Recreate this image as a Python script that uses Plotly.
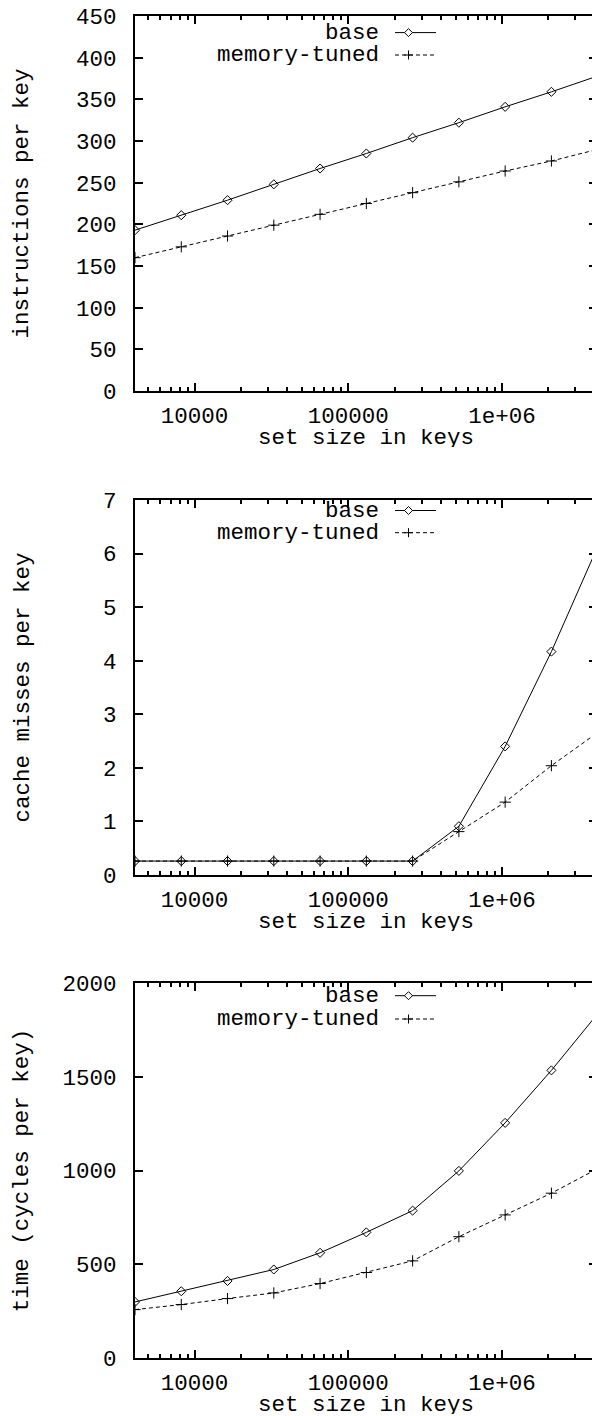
import math
import plotly.graph_objects as go

# ---------------- data ----------------
set_size = [4096, 8192, 16384, 32768, 65536, 131072, 262144,
            524288, 1048576, 2097152, 4194304]

instr_base = [193, 211, 229, 248, 267, 285, 304, 322, 341, 359, 378]
instr_tuned = [160, 173, 186, 199, 212, 225, 238, 251, 264, 276, 290]

miss_base = [0.26, 0.26, 0.26, 0.26, 0.26, 0.26, 0.26, 0.91, 2.40, 4.17, 6.13]
miss_tuned = [0.26, 0.26, 0.26, 0.26, 0.26, 0.26, 0.26, 0.81, 1.36, 2.04, 2.66]

time_base = [299, 356, 411, 472, 561, 670, 786, 998, 1254, 1534, 1836]
time_tuned = [258, 285, 317, 347, 397, 456, 518, 647, 763, 879, 1010]

series_names = ["base", "memory-tuned"]
y_titles = ["instructions per key", "cache misses per key", "time (cycles per key)"]
x_title = "set size in keys"
x_tick_vals = [1e4, 1e5, 1e6]
x_tick_text = ["10000", "100000", "1e+06"]
y_max = [450, 7, 2000]
y_step = [50, 1, 500]

panels = [(instr_base, instr_tuned), (miss_base, miss_tuned), (time_base, time_tuned)]

# ---------------- layout geometry (pixels) ----------------
W, H = 592, 1416
L = 135                    # left edge of plot area
PW = W - L                 # plot width (right side cut by the page edge)
tops = [16, 500, 983]      # top of each panel
PH = 375                   # panel height
x_lo = math.log10(4096)
x_hi = x_lo + PW / 153.7   # ~153.7 px per decade

FONT = "Liberation Mono, Courier New, monospace"
FS = 22.5
# legend row offsets from panel top (sample line y)
legend_rows = [(16.6, 39.0), (10.5, 32.7), (12.7, 36.0)]
x_title_offset = 47        # px below the panel bottom
y_standoff = [41, 67, 28]

minor_vals = [m * 10 ** e for e in (3, 4, 5, 6) for m in range(2, 10)]


def dx(px):
    return (px - L) / PW


fig = go.Figure()
layout = dict(
    width=W, height=H,
    margin=dict(l=L, r=0, t=0, b=0, autoexpand=False),
    paper_bgcolor="white", plot_bgcolor="white",
    font=dict(family=FONT, size=FS, color="black"),
    showlegend=False,
)

shapes = []
annotations = []
TW = 1.5
tick_style = dict(tickwidth=TW, tickcolor="black", showgrid=False, zeroline=False)
minor_style = dict(ticks="inside", ticklen=4, tickwidth=TW, tickcolor="black",
                   tickmode="array", tickvals=minor_vals, showgrid=False)

for i, (ys_base, ys_tuned) in enumerate(panels):
    n = i + 1
    xa = "x" if n == 1 else f"x{n}"
    ya = "y" if n == 1 else f"y{n}"
    xkey = "xaxis" if n == 1 else f"xaxis{n}"
    ykey = "yaxis" if n == 1 else f"yaxis{n}"
    xa_top = f"x{n + 3}"
    ya_right = f"y{n + 3}"
    top = tops[i]
    dom = [1 - (top + PH) / H, 1 - top / H]

    fig.add_trace(go.Scatter(
        x=set_size, y=ys_base, name=series_names[0], xaxis=xa, yaxis=ya,
        mode="lines+markers",
        line=dict(color="black", width=1),
        marker=dict(symbol="diamond-open", size=7, color="black",
                    line=dict(color="black", width=1)),
    ))
    fig.add_trace(go.Scatter(
        x=set_size, y=ys_tuned, name=series_names[1], xaxis=xa, yaxis=ya,
        mode="lines+markers",
        line=dict(color="black", width=1, dash="4px,3px"),
        marker=dict(symbol="cross-thin-open", size=8, color="black",
                    line=dict(color="black", width=1)),
    ))
    # empty helpers so the mirrored tick axes (top / right) get drawn
    fig.add_trace(go.Scatter(x=[], y=[], xaxis=xa_top, yaxis=ya,
                             hoverinfo="skip", showlegend=False))
    fig.add_trace(go.Scatter(x=[], y=[], xaxis=xa, yaxis=ya_right,
                             hoverinfo="skip", showlegend=False))

    layout[xkey] = dict(
        type="log", range=[x_lo, x_hi], domain=[0, 1], anchor=ya,
        showline=True, linecolor="black", linewidth=1.8, mirror=True,
        ticks="inside", ticklen=8,
        tickmode="array", tickvals=x_tick_vals, ticktext=x_tick_text,
        minor=minor_style,
        automargin=False,
        tickfont=dict(family=FONT, size=FS, color="black"),
        ticklabelstandoff=3,
        **tick_style,
    )
    # top-edge tick marks (gnuplot mirrors the x tics)
    layout[f"xaxis{n + 3}"] = dict(
        type="log", range=[x_lo, x_hi], overlaying=xa, anchor=ya, side="top",
        ticks="inside", ticklen=8, tickmode="array", tickvals=x_tick_vals,
        showticklabels=False, showline=False, minor=minor_style,
        **tick_style,
    )
    layout[ykey] = dict(
        range=[0, y_max[i]], dtick=y_step[i], tick0=0, domain=dom, anchor=xa,
        showline=True, linecolor="black", linewidth=1.8,
        ticks="inside", ticklen=8,
        automargin=False,
        tickfont=dict(family=FONT, size=FS, color="black"),
        ticklabelstandoff=12,
        title=dict(text=y_titles[i], font=dict(family=FONT, size=FS, color="black"),
                   standoff=y_standoff[i]),
        **tick_style,
    )
    # right-hand tick marks (the border itself lies just past the page edge)
    layout[f"yaxis{n + 3}"] = dict(
        range=[0, y_max[i]], dtick=y_step[i], tick0=0, overlaying=ya,
        anchor=xa, side="right", ticks="inside", ticklen=3,
        showticklabels=False, showline=False,
        **tick_style,
    )

    yref = f"{ya} domain"
    xref = f"{xa} domain"

    # x axis title, tucked close under the tick labels as gnuplot does
    annotations.append(dict(
        text=x_title, xref=xref, yref=yref, x=dx(366), y=-x_title_offset / PH,
        xanchor="center", yanchor="middle", showarrow=False, height=18,
        font=dict(family=FONT, size=FS, color="black"),
    ))

    # gnuplot-style key: text right-aligned, sample to its right
    for j, name in enumerate(series_names):
        ypx = top + legend_rows[i][j]
        yd = (top + PH - ypx) / PH
        annotations.append(dict(
            text=name, xref=xref, yref=yref, x=dx(381), y=yd,
            xanchor="right", yanchor="middle", showarrow=False, height=20,
            font=dict(family=FONT, size=FS, color="black"),
        ))
        shapes.append(dict(
            type="line", xref=xref, yref=yref, x0=dx(395), x1=dx(436), y0=yd, y1=yd,
            line=dict(color="black", width=1, dash="solid" if j == 0 else "4px,3px"),
        ))
        if j == 0:
            path = "M -4,0 L 0,4 L 4,0 L 0,-4 Z"
        else:
            path = "M -4.5,0 L 4.5,0 M 0,-4.5 L 0,4.5"
        shapes.append(dict(
            type="path", xref=xref, yref=yref, xsizemode="pixel", ysizemode="pixel",
            xanchor=dx(408.5), yanchor=yd, path=path,
            fillcolor="white" if j == 0 else None,
            line=dict(color="black", width=1),
        ))

layout["shapes"] = shapes
layout["annotations"] = annotations
fig.update_layout(**layout)
fig.write_html("out.html")
